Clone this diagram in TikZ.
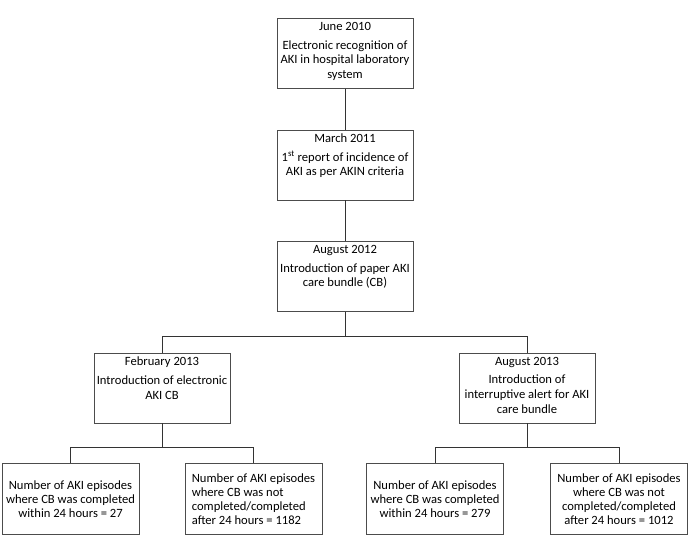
\documentclass[tikz,border=0pt]{standalone}
\usepackage{fontspec}
\setmainfont{Carlito}
\usetikzlibrary{positioning}
\newcommand{\stagetext}[2]{\parbox[t][62pt][t]{136pt}{\centering #1\par\vspace{4pt}#2}}

\begin{document}
\begin{tikzpicture}[
            node distance = 41pt and 0pt,
            stage/.style = {rectangle, draw=black!70, line width=0.6pt, inner xsep=0pt, inner ysep=4pt, font=\fontsize{12.6}{14.6}\selectfont},
            count/.style = {rectangle, draw=black!70, line width=0.6pt, minimum width=137pt, minimum height=71pt, inner xsep=4pt, inner ysep=4pt, align=center, font=\fontsize{12.6}{14}\selectfont},
            link/.style = {draw=black!80, line width=0.6pt}
        ]
        \useasboundingbox (0,0) rectangle (689pt,-543pt);

        % Etapas principales
        \node [stage, anchor=north] (recog) at (345pt,-18pt) {\stagetext{June 2010}{Electronic recognition of\\AKI in hospital laboratory\\system}};
        \node [stage, below=of recog] (report) {\stagetext{March 2011}{1\textsuperscript{st} report of incidence of\\AKI as per AKIN criteria}};
        \node [stage, below=of report] (paper) {\stagetext{August 2012}{Introduction of paper AKI\\care bundle (CB)}};

        % Dos ramas
        \node [stage, below=of paper, xshift=-183pt] (elec) {\stagetext{February 2013}{Introduction of electronic\\AKI CB}};
        \node [stage, below=of paper, xshift=182pt] (alert) {\stagetext{August 2013}{Introduction of\\interruptive alert for AKI\\care bundle}};

        % Resultados
        \node [count, below=40pt of elec, xshift=-91.5pt] (elecin) {Number of AKI episodes\\where CB was completed\\within 24 hours = 27};
        \node [count, below=40pt of elec, xshift=91.5pt, align=left] (elecout) {Number of AKI episodes\\where CB was not\\completed/completed\\after 24 hours = 1182};
        \node [count, below=40pt of alert, xshift=-92pt] (alertin) {Number of AKI episodes\\where CB was completed\\within 24 hours = 279};
        \node [count, below=40pt of alert, xshift=92pt] (alertout) {Number of AKI episodes\\where CB was not\\completed/completed\\after 24 hours = 1012};

        % Conectores
        \draw [link] (recog) -- (report);
        \draw [link] (report) -- (paper);
        \draw [link] (paper.south) -- ++(0,-24pt) -| (elec.north);
        \draw [link] (paper.south) -- ++(0,-24pt) -| (alert.north);
        \draw [link] (elec.south) -- ++(0,-24pt) -| (elecin.north);
        \draw [link] (elec.south) -- ++(0,-24pt) -| (elecout.north);
        \draw [link] (alert.south) -- ++(0,-24pt) -| (alertin.north);
        \draw [link] (alert.south) -- ++(0,-24pt) -| (alertout.north);

    \end{tikzpicture}
\end{document}
